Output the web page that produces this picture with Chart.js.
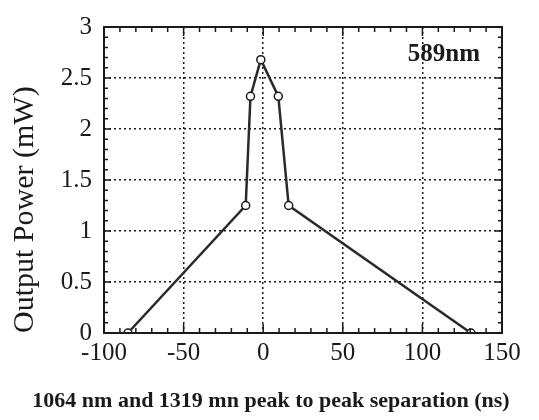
<!DOCTYPE html>
<html>
<head>
<meta charset="utf-8">
<script src="https://cdn.jsdelivr.net/npm/chart.js@4"></script>
<style>
  html, body { margin: 0; padding: 0; background: #fff; }
  canvas { display: block; }
</style>
</head>
<body>
<canvas id="powerChart" width="539" height="420"></canvas>
<script>
// separation (ns) and output power (mW)
const separation = [-85, -11, -8, -1.5, 9.5, 16, 130.5];
const outputPower = [0, 1.25, 2.32, 2.68, 2.32, 1.25, 0];
const xTicks = [-100, -50, 0, 50, 100, 150];
const yTicks = [0, 0.5, 1, 1.5, 2, 2.5, 3];
const seriesLabel = '589nm';
const xTitle = '1064 nm and 1319 mn peak to peak separation (ns)';

const serif = "'Liberation Serif', 'Times New Roman', serif";
const ink = '#1a1a1a';

// frame, inward minor ticks, wavelength tag and the x title
const framePlugin = {
    id: 'frame',
    afterDatasetsDraw(chart) {
        const { ctx, chartArea: a, scales: { x, y } } = chart;
        ctx.save();
        ctx.strokeStyle = ink;
        ctx.lineWidth = 1.5;
        ctx.beginPath();
        for (let v = -90; v < 150; v += 10) {
            const px = x.getPixelForValue(v);
            const len = v % 50 === 0 ? 9 : 5;
            ctx.moveTo(px, a.bottom); ctx.lineTo(px, a.bottom - len);
            ctx.moveTo(px, a.top); ctx.lineTo(px, a.top + len);
        }
        for (let i = 1; i < 30; i++) {
            const py = y.getPixelForValue(i / 10);
            const len = i % 5 === 0 ? 7 : 4;
            ctx.moveTo(a.left, py); ctx.lineTo(a.left + len, py);
            ctx.moveTo(a.right, py); ctx.lineTo(a.right - len, py);
        }
        ctx.stroke();
        ctx.lineWidth = 2;
        ctx.strokeRect(a.left, a.top, a.right - a.left, a.bottom - a.top);

        ctx.fillStyle = ink;
        ctx.font = 'bold 25px ' + serif;
        ctx.textAlign = 'right';
        ctx.textBaseline = 'alphabetic';
        ctx.fillText(seriesLabel, a.right - 22, a.top + 34);

        // the x title sits left of the plot centre in the original
        ctx.font = 'bold 22px ' + serif;
        ctx.textAlign = 'center';
        ctx.textBaseline = 'middle';
        ctx.fillText(xTitle, 271, 401);
        ctx.restore();
    }
};

const ctx = document.getElementById('powerChart').getContext('2d');
const chart = new Chart(ctx, {
    type: 'line',
    data: {
        datasets: [{
            label: seriesLabel,
            data: separation.map((s, i) => ({ x: s, y: outputPower[i] })),
            borderColor: '#2a2a2a',
            borderWidth: 2.5,
            tension: 0,
            pointRadius: 4,
            pointHoverRadius: 4,
            pointBackgroundColor: '#fff',
            pointBorderColor: ink,
            pointBorderWidth: 1.5
        }]
    },
    options: {
        responsive: false,
        animation: false,
        events: [],
        layout: { padding: { top: 24, right: 37, left: 0, bottom: 0 } },
        plugins: {
            legend: { display: false },
            tooltip: { enabled: false }
        },
        scales: {
            x: {
                type: 'linear',
                min: -100,
                max: 150,
                afterBuildTicks: s => { s.ticks = xTicks.map(v => ({ value: v })); },
                afterFit: s => { s.height = 87; },
                grid: { color: ink, lineWidth: 1.5, drawTicks: false },
                border: { display: false, dash: [2, 3] },
                ticks: { color: ink, padding: 5, font: { family: serif, size: 25 } }
            },
            y: {
                type: 'linear',
                min: 0,
                max: 3,
                afterBuildTicks: s => { s.ticks = yTicks.map(v => ({ value: v })); },
                afterFit: s => { s.width = 104; },
                grid: { color: ink, lineWidth: 1.5, drawTicks: false },
                border: { display: false, dash: [2, 3] },
                ticks: {
                    color: ink,
                    padding: 12,
                    font: { family: serif, size: 25 },
                    callback: v => String(v)
                },
                title: {
                    display: true,
                    text: 'Output Power (mW)',
                    align: 'start',
                    color: ink,
                    font: { family: serif, size: 30, lineHeight: 1 },
                    padding: { top: 10, bottom: 0 }
                }
            }
        }
    },
    plugins: [framePlugin]
});
</script>
</body>
</html>
